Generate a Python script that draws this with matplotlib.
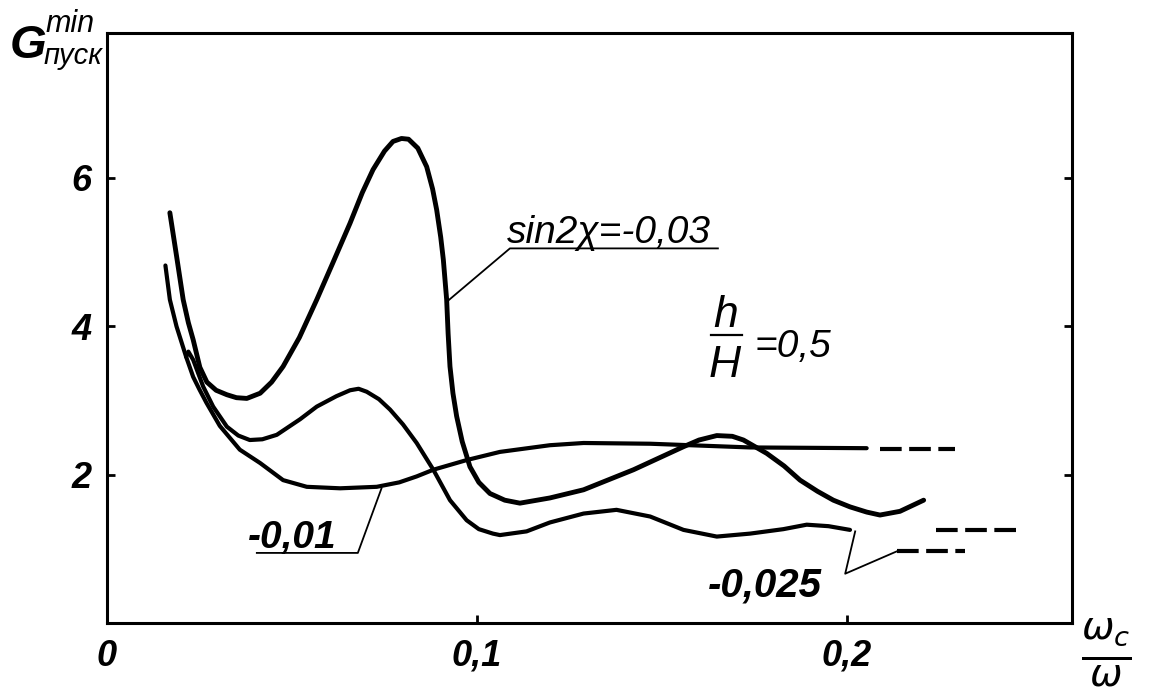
import matplotlib
matplotlib.use('Agg')
import matplotlib.pyplot as plt

plt.rcParams['font.family'] = ['Liberation Sans Narrow', 'Liberation Sans', 'DejaVu Sans']
plt.rcParams['font.style'] = 'italic'
plt.rcParams['mathtext.fontset'] = 'custom'
plt.rcParams['mathtext.it'] = 'Liberation Sans Narrow:italic'
plt.rcParams['mathtext.rm'] = 'Liberation Sans Narrow:italic'

# sin2x = -0,03
xa = [0.0170, 0.0188, 0.0206, 0.0220, 0.0233, 0.0251, 0.0270, 0.0295, 0.0324, 0.0350,
      0.0378, 0.0414, 0.0445, 0.0476, 0.0520, 0.0567, 0.0610, 0.0657, 0.0690, 0.0719,
      0.0750, 0.0773, 0.0796, 0.0815, 0.0840, 0.0864, 0.0880, 0.0891, 0.0902, 0.0909,
      0.0918, 0.0922, 0.0927, 0.0935, 0.0945, 0.0960, 0.0981, 0.1005, 0.1035, 0.1075,
      0.1116, 0.1197, 0.1288, 0.1423, 0.1558, 0.1600, 0.1648, 0.1690, 0.1720, 0.1783,
      0.1830, 0.1873, 0.1920, 0.1963, 0.2008, 0.2053, 0.2089, 0.2143, 0.2207]
ya = [5.53, 4.95, 4.36, 4.05, 3.82, 3.45, 3.25, 3.14, 3.08, 3.04,
      3.03, 3.10, 3.25, 3.46, 3.85, 4.36, 4.85, 5.39, 5.80, 6.11,
      6.36, 6.49, 6.53, 6.52, 6.40, 6.15, 5.85, 5.57, 5.20, 4.90,
      4.36, 3.90, 3.46, 3.10, 2.79, 2.45, 2.11, 1.90, 1.75, 1.66,
      1.62, 1.69, 1.80, 2.07, 2.38, 2.47, 2.53, 2.52, 2.47, 2.29,
      2.12, 1.93, 1.78, 1.66, 1.57, 1.50, 1.46, 1.51, 1.66]

# -0,025
xb = [0.0214, 0.0220, 0.0233, 0.0260, 0.0287, 0.0324, 0.0355, 0.0386, 0.0420, 0.0459,
      0.0522, 0.0567, 0.0620, 0.0657, 0.0680, 0.0702, 0.0735, 0.0765, 0.0800, 0.0837,
      0.0882, 0.0927, 0.0972, 0.1005, 0.1043, 0.1062, 0.1134, 0.1197, 0.1288, 0.1377,
      0.1468, 0.1558, 0.1648, 0.1738, 0.1828, 0.1891, 0.1950, 0.2008]
yb = [3.59, 3.66, 3.55, 3.19, 2.92, 2.65, 2.53, 2.47, 2.48, 2.54,
      2.75, 2.92, 3.06, 3.14, 3.16, 3.12, 3.02, 2.88, 2.68, 2.43,
      2.07, 1.66, 1.39, 1.27, 1.21, 1.19, 1.24, 1.36, 1.48, 1.53,
      1.44, 1.26, 1.17, 1.21, 1.27, 1.33, 1.31, 1.26]

# -0,01
xc = [0.0158, 0.0170, 0.0188, 0.0214, 0.0233, 0.0250, 0.0269, 0.0305, 0.0359, 0.0414,
      0.0476, 0.0540, 0.0630, 0.0729, 0.0790, 0.0837, 0.0882, 0.0972, 0.1062, 0.1197,
      0.1288, 0.1468, 0.1738, 0.2053]
yc = [4.82, 4.36, 4.00, 3.59, 3.32, 3.15, 2.97, 2.66, 2.34, 2.16,
      1.93, 1.84, 1.82, 1.84, 1.90, 1.98, 2.07, 2.20, 2.31, 2.40,
      2.43, 2.42, 2.37, 2.36]

# dashed continuations
xc_dash = [0.2090, 0.2292]
yc_dash = [2.35, 2.35]
xa_dash = [0.2241, 0.2457]
ya_dash = [1.26, 1.26]
xb_dash = [0.2134, 0.2319]
yb_dash = [0.97, 0.97]

xticks = [0, 0.1, 0.2]
xtick_labels = ['0', '0,1', '0,2']
yticks = [2, 4, 6]
ytick_labels = ['2', '4', '6']

fig = plt.figure(figsize=(11.5, 6.89), dpi=100)
ax = fig.add_axes([0.0930, 0.0951, 0.8392, 0.8570])
ax.set_xlim(0, 0.2608)
ax.set_ylim(0, 7.95)

style = dict(color='black', solid_capstyle='round', solid_joinstyle='round')
ax.plot(xa, ya, lw=3.5, **style)
ax.plot(xb, yb, lw=3.0, **style)
ax.plot(xc, yc, lw=3.0, **style)
for xs, ys in [(xc_dash, yc_dash), (xa_dash, ya_dash), (xb_dash, yb_dash)]:
    ax.plot(xs, ys, color='black', lw=3.0, dashes=(5.2, 1.8))

for s in ax.spines.values():
    s.set_linewidth(2.2)
ax.set_xticks(xticks)
ax.set_xticklabels(xtick_labels, fontweight='bold')
ax.set_yticks(yticks)
ax.set_yticklabels(ytick_labels, fontweight='bold')
ax.tick_params(axis='both', direction='in', length=6, width=2, labelsize=26, pad=11)
ax.tick_params(axis='y', right=True)

# curve labels and leaders
ax.text(0.108, 5.12, 'sin2χ=-0,03', fontsize=28, ha='left', va='baseline')
ax.plot([0.0918, 0.1089, 0.1651], [4.33, 5.05, 5.05], color='black', lw=1.3)

ax.text(0.0381, 1.02, '-0,01', fontsize=28, fontweight='bold', ha='left', va='baseline')
ax.plot([0.0405, 0.0678, 0.0742], [0.95, 0.95, 1.82], color='black', lw=1.3)

ax.text(0.1932, 0.36, '-0,025', fontsize=29, fontweight='bold', ha='right', va='baseline')
ax.plot([0.2022, 0.1995, 0.2134], [1.24, 0.67, 0.97], color='black', lw=1.3)

ax.text(0.1673, 3.99, 'h', fontsize=32, ha='center', va='baseline')
ax.plot([0.1632, 0.1716], [3.885, 3.885], color='black', lw=1.6)
ax.text(0.1670, 3.32, 'H', fontsize=32, ha='center', va='baseline')
ax.text(0.1751, 3.59, '=0,5', fontsize=28, ha='left', va='baseline')

# axis titles
def px(x, y):
    return x / 1150, 1 - y / 689

fig.text(*px(10, 58), 'G', fontsize=34, fontweight='bold', ha='left', va='baseline')
fig.text(*px(46, 32), 'min', fontsize=22, ha='left', va='baseline')
fig.text(*px(44, 64), 'пуск', fontsize=21, ha='left', va='baseline')

fig.text(*px(1106, 653), r'$\frac{\omega_c}{\omega}$', fontsize=40, ha='center', va='center')

fig.savefig('out.png', dpi=100, facecolor='white')
